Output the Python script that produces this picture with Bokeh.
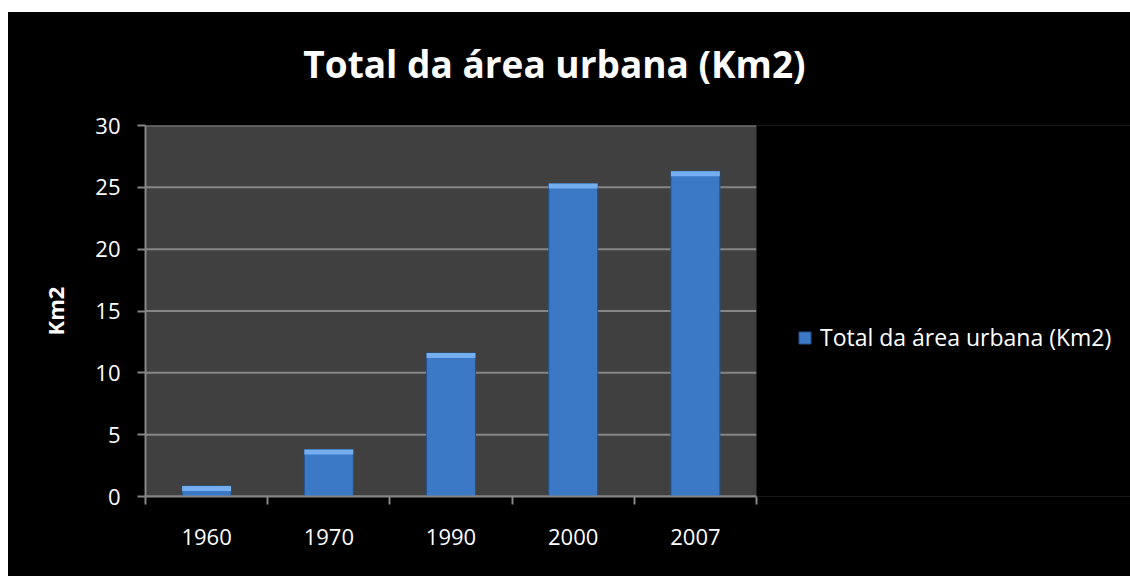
from bokeh.plotting import figure
from bokeh.layouts import column
from bokeh.models import (Range1d, FixedTicker, Legend, LegendItem, ColumnDataSource,
                          BoxAnnotation, Label)
from bokeh.embed import file_html
from bokeh.resources import INLINE

# ---- data ----
years = ["1960", "1970", "1990", "2000", "2007"]
areas = [0.85, 3.8, 11.6, 25.3, 26.3]
series_name = "Total da área urbana (Km2)"
title_text = "Total da área urbana (Km2)"
y_label = "Km2"
y_ticks = [0, 5, 10, 15, 20, 25, 30]

FONT = "Open Sans"
GRAY = "#868686"

n = len(years)
centers = [i + 0.5 for i in range(n)]      # category slot centres
bounds = list(range(n + 1))                # category slot boundaries

W = 1122
TITLE_H = 97
H = 467
LEFT = 137
PLOT_W = 611                               # width of the grey plot area
FRAME_W = W - LEFT
x_end = n * FRAME_W / PLOT_W               # frame extends under the legend area

# ---- title strip ----
pt = figure(width=W, height=TITLE_H, x_range=Range1d(0, 1), y_range=Range1d(0, 1),
            output_backend="svg", toolbar_location=None, min_border=0,
            x_axis_location=None, y_axis_location=None)
pt.background_fill_color = None
pt.border_fill_color = "black"
pt.outline_line_color = None
pt.xgrid.visible = False
pt.ygrid.visible = False
pt.add_layout(Label(x=409, y=46, x_units="screen", y_units="screen",
                    text=title_text, text_align="center",
                    text_baseline="alphabetic", text_color="white",
                    text_font=FONT, text_font_style="bold",
                    text_font_size="37px"))

# ---- main chart ----
p = figure(width=W, height=H, x_range=Range1d(0, x_end), y_range=Range1d(0, 30),
           output_backend="svg", toolbar_location=None,
           min_border_left=LEFT, min_border_right=0, min_border_top=16,
           min_border_bottom=80)
p.background_fill_color = "#404040"
p.border_fill_color = "black"
p.outline_line_color = None

# y axis
yax = p.yaxis[0]
yax.ticker = FixedTicker(ticks=y_ticks)
yax.major_label_text_font = FONT
yax.major_label_text_font_size = "22px"
yax.major_label_text_color = "white"
yax.axis_line_color = GRAY
yax.axis_line_width = 2
yax.major_tick_line_color = GRAY
yax.major_tick_line_width = 2
yax.major_tick_out = 8
yax.major_tick_in = 0
yax.minor_tick_line_color = None
yax.major_label_standoff = 17
yax.axis_label = y_label
yax.axis_label_text_font = FONT
yax.axis_label_text_font_style = "bold"
yax.axis_label_text_font_size = "22px"
yax.axis_label_text_color = "white"
yax.axis_label_standoff = 22

p.xgrid.visible = False
p.ygrid.visible = False
# horizontal gridlines across the plot area only
p.segment(x0=[0] * len(y_ticks), x1=[n] * len(y_ticks), y0=y_ticks, y1=y_ticks,
          line_color=GRAY, line_width=2, level="underlay")

# x axis: labels at category centres, ticks at category boundaries
xax = p.xaxis[0]
xax.bounds = (0, n)
xax.ticker = FixedTicker(ticks=centers, minor_ticks=bounds)
xax.major_label_overrides = {c: y for c, y in zip(centers, years)}
xax.major_label_text_font = FONT
xax.major_label_text_font_size = "22px"
xax.major_label_text_color = "white"
xax.axis_line_color = GRAY
xax.axis_line_width = 2
xax.major_tick_out = 0
xax.major_tick_in = 0
xax.major_tick_line_color = None
xax.minor_tick_line_color = GRAY
xax.minor_tick_line_width = 2
xax.minor_tick_out = 8
xax.minor_tick_in = 0
xax.major_label_standoff = 24

# bars
src = ColumnDataSource(dict(x=centers, year=years, area=areas,
                            hl=[a - 0.4 for a in areas]))
r = p.vbar(x="x", top="area", width=0.4, source=src,
           fill_color="#3b79c7", line_color="#24548f", line_width=1)
p.vbar(x="x", top="area", bottom="hl", width=0.4, source=src,
       fill_color="#74aeee", line_color=None)

# black out the part of the frame to the right of the plot area (legend zone)
p.add_layout(BoxAnnotation(left=n, fill_color="black", fill_alpha=1,
                           line_color=None))

legend = Legend(items=[LegendItem(label=series_name, renderers=[r])],
                location=(652, 143), padding=0, margin=0,
                border_line_color=None, background_fill_alpha=0,
                glyph_width=15, glyph_height=15, label_standoff=8,
                label_text_font=FONT, label_text_font_size="23px",
                label_text_color="white")
p.add_layout(legend, "center")

layout = column(pt, p, spacing=0, margin=(12, 0, 0, 8),
                styles={"background-color": "black"})
open("out.html", "w").write(file_html(layout, INLINE))
